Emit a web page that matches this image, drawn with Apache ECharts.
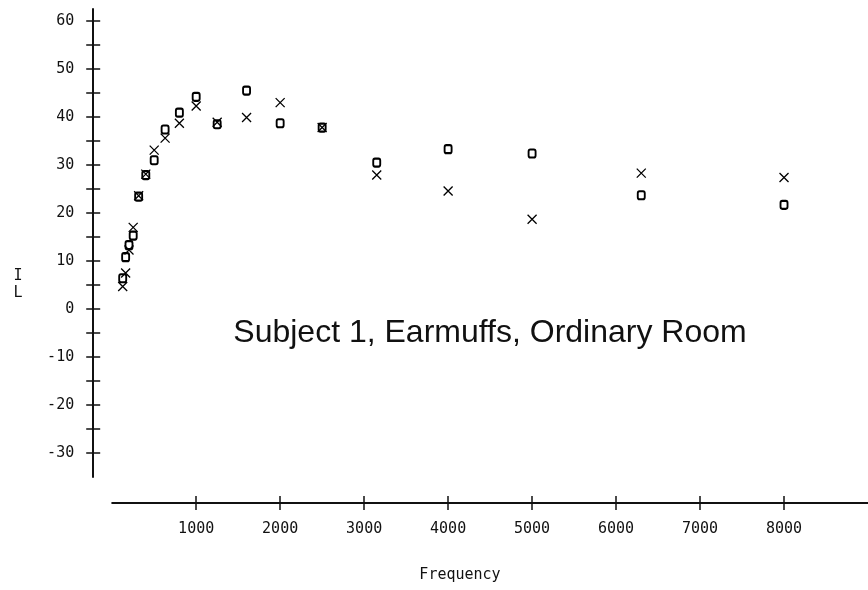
<!DOCTYPE html>
<html>
<head>
<meta charset="utf-8">
<script src="https://cdn.jsdelivr.net/npm/echarts@6/dist/echarts.min.js"></script>
<style>
  html, body { margin: 0; padding: 0; background: #fff; }
  #chart { width: 868px; height: 590px; }
</style>
</head>
<body>
<div id="chart"></div>
<script>
// One-third-octave test frequencies (Hz)
const frequencies = [125, 160, 200, 250, 315, 400, 500, 630, 800, 1000, 1250, 1600, 2000, 2500, 3150, 4000, 5000, 6300, 8000];
// Insertion loss values (dB), two measurement runs
const runCircle = [6.4, 10.8, 13.3, 15.3, 23.4, 27.9, 31.0, 37.4, 40.9, 44.2, 38.5, 45.5, 38.7, 37.8, 30.5, 33.3, 32.4, 23.7, 21.7];
const runCross  = [4.7, 7.5, 12.3, 17.0, 23.6, 28.1, 33.1, 35.6, 38.7, 42.3, 38.9, 39.9, 43.0, 37.8, 27.9, 24.6, 18.7, 28.3, 27.4];
// Axis ticks and labels
const xTickValues = [1000, 2000, 3000, 4000, 5000, 6000, 7000, 8000];
const yLabelValues = [-30, -20, -10, 0, 10, 20, 30, 40, 50, 60];
const yTickValues = [-30, -25, -20, -15, -10, -5, 0, 5, 10, 15, 20, 25, 30, 35, 40, 45, 50, 55, 60];

const monoFont = '"DejaVu Sans Mono", monospace';
const monoSize = 15;
const ink = '#111';

const pairs = (xs, ys) => xs.map((x, i) => [x, ys[i]]);

// Each axis is drawn twice: once with outward ticks, labels and line,
// once with inward ticks only, so the ticks cross the axis line.
function xAxisBase(inside) {
  return {
    type: 'value', min: 0, max: 9000, position: 'bottom', offset: 26,
    axisLine: { show: !inside, onZero: false, lineStyle: { color: ink, width: 2 } },
    axisTick: { show: true, inside: inside, length: 7, customValues: xTickValues, lineStyle: { color: ink, width: 1.5 } },
    axisLabel: { show: !inside, customValues: xTickValues, formatter: v => String(v), margin: 19, fontFamily: monoFont, fontSize: monoSize, color: ink },
    splitLine: { show: false }
  };
}
function yAxisBase(inside) {
  return {
    type: 'value', min: -35, max: 62.5, position: 'left', offset: 19,
    axisLine: { show: !inside, onZero: false, lineStyle: { color: ink, width: 2 } },
    axisTick: { show: true, inside: inside, length: 7, customValues: yTickValues, lineStyle: { color: ink, width: 1.5 } },
    axisLabel: { show: !inside, customValues: yLabelValues, formatter: v => String(v), margin: 19, fontFamily: monoFont, fontSize: monoSize, color: ink },
    splitLine: { show: false }
  };
}

const chart = echarts.init(document.getElementById('chart'), null, { renderer: 'canvas' });
chart.setOption({
  animation: false,
  backgroundColor: '#fff',
  grid: { left: 112.2, top: 9, height: 468, width: 760.5 },
  xAxis: [xAxisBase(false), xAxisBase(true)],
  yAxis: [yAxisBase(false), yAxisBase(true)],
  series: [
    {
      type: 'scatter', xAxisIndex: 0, yAxisIndex: 0,
      data: pairs(frequencies, runCircle),
      symbol: 'roundRect', symbolSize: [7, 8],
      itemStyle: { color: 'transparent', borderColor: '#000', borderWidth: 2, opacity: 1 },
      emphasis: { disabled: true }
    },
    {
      type: 'scatter', xAxisIndex: 0, yAxisIndex: 0,
      data: pairs(frequencies, runCross),
      symbol: 'path://M0,0L10,10M10,0L0,10', symbolSize: 9,
      itemStyle: { color: 'transparent', borderColor: '#000', borderWidth: 1.3, opacity: 1 },
      emphasis: { disabled: true }
    }
  ],
  graphic: [
    { type: 'text', x: 18, y: 285, style: { text: 'I\nL', font: monoSize + 'px ' + monoFont, fill: ink, align: 'center', verticalAlign: 'middle', lineHeight: 17 } },
    { type: 'text', x: 460, y: 575, style: { text: 'Frequency', font: monoSize + 'px ' + monoFont, fill: ink, align: 'center', verticalAlign: 'middle' } },
    { type: 'text', x: 490, y: 333, style: { text: 'Subject 1, Earmuffs, Ordinary Room', font: '32px "Liberation Sans", Arial, sans-serif', fill: '#111', align: 'center', verticalAlign: 'middle' } }
  ]
});
</script>
</body>
</html>
